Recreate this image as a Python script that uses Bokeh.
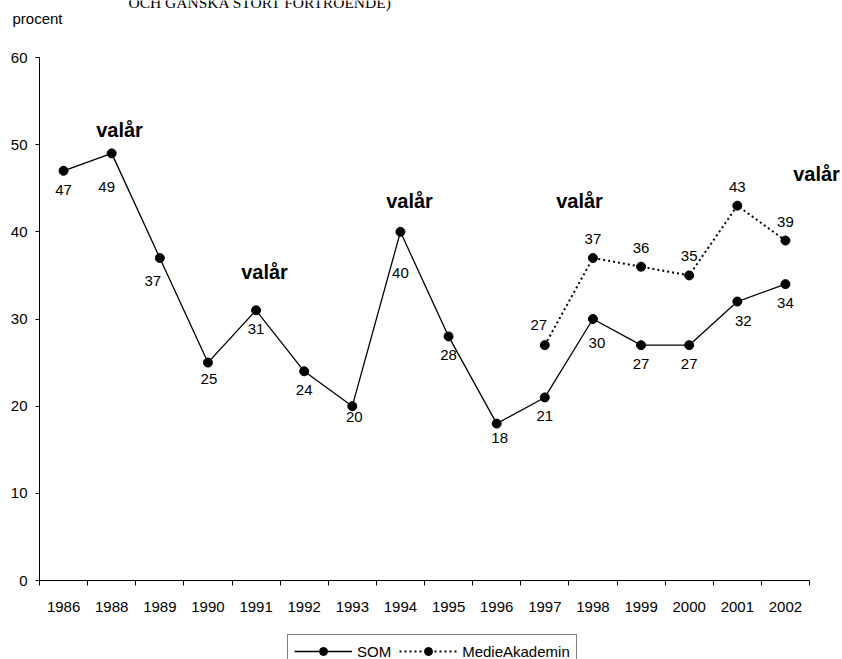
from bokeh.plotting import figure
from bokeh.models import (ColumnDataSource, FixedTicker, Label, Legend, LegendItem,
                          Range1d)
from bokeh.core.properties import value
from bokeh.embed import file_html
from bokeh.resources import INLINE

# ---------------- data ----------------
years = ["1986", "1988", "1989", "1990", "1991", "1992", "1993", "1994",
         "1995", "1996", "1997", "1998", "1999", "2000", "2001", "2002"]
som = [47, 49, 37, 25, 31, 24, 20, 40, 28, 18, 21, 30, 27, 27, 32, 34]
media_years = ["1997", "1998", "1999", "2000", "2001", "2002"]
media = [27, 37, 36, 35, 43, 39]
valar_years = ["1988", "1991", "1994", "1998", "2002"]
y_ticks = [0, 10, 20, 30, 40, 50, 60]
y_max = 60

# ---------------- layout config (not data) ----------------
FONT = "Liberation Sans"
W, H = 842, 659
# plot-area box in pixels (left, right, top, bottom)
PL, PR, PT, PB = 39, 809, 57, 580
ncat = len(years)
ux = (PR - PL) / ncat          # pixels per category
uy = (PB - PT) / y_max         # pixels per percent


def dx(px):   # pixel column -> x data
    return (px - PL) / ux


def dy(py):   # pixel row -> y data
    return (PB - py) / uy


# label nudges in pixels (dx, dy) for data labels, keyed by year
som_nudge = {"1988": (-5, 34), "1989": (-7, 23), "1990": (1, 16), "1993": (2, 11),
             "1994": (0, 41), "1996": (3, 14), "1998": (4, 24), "2001": (6, 19)}
media_nudge = {"1997": (-6, -20)}
# position of the "valår" notes in pixels (centre x, centre y)
valar_pos = {"1988": (119, 129), "1991": (264, 271), "1994": (409, 200),
             "1998": (579, 200), "2002": (816, 173)}

xpos = {y: i + 0.5 for i, y in enumerate(years)}

som_x = [xpos[y] for y in years]
media_x = [xpos[y] for y in media_years]

som_dx = [som_nudge.get(y, (0, 19))[0] for y in years]
som_dy = [som_nudge.get(y, (0, 19))[1] for y in years]
media_dx = [media_nudge.get(y, (0, -19))[0] for y in media_years]
media_dy = [media_nudge.get(y, (0, -19))[1] for y in media_years]

src_som = ColumnDataSource(dict(x=som_x, y=som, t=[str(v) for v in som],
                                dx=som_dx, dy=som_dy))
src_media = ColumnDataSource(dict(x=media_x, y=media, t=[str(v) for v in media],
                                  dx=media_dx, dy=media_dy))

p = figure(width=W, height=H,
           x_range=Range1d(dx(0), dx(W)), y_range=Range1d(dy(H), dy(0)),
           output_backend="svg", toolbar_location=None,
           min_border=0)
p.title.visible = False
p.outline_line_color = None
p.background_fill_color = "white"
p.border_fill_color = "white"
p.xgrid.visible = False
p.ygrid.visible = False

# axes (drawn by bokeh at the data origin)
xa = p.xaxis[0]
xa.fixed_location = 0
xa.bounds = (0, ncat)
xa.ticker = FixedTicker(ticks=som_x, minor_ticks=list(range(ncat + 1)))
xa.major_label_overrides = {xpos[y]: y for y in years}
xa.major_tick_out = 0
xa.major_tick_in = 0
xa.minor_tick_out = 5
xa.minor_tick_in = 0
xa.minor_tick_line_color = "black"
xa.axis_line_color = "black"
xa.major_label_standoff = 16
xa.major_label_text_font = FONT
xa.major_label_text_font_size = "15px"
xa.major_label_text_color = "black"

ya = p.yaxis[0]
ya.fixed_location = 0
ya.bounds = (0, y_max)
ya.ticker = FixedTicker(ticks=y_ticks)
ya.major_tick_out = 4
ya.major_tick_in = 0
ya.minor_tick_out = 0
ya.minor_tick_in = 0
ya.axis_line_color = "black"
ya.major_tick_line_color = "black"
ya.major_label_standoff = 8
ya.major_label_text_font = FONT
ya.major_label_text_font_size = "15px"
ya.major_label_text_color = "black"

# series
l1 = p.line("x", "y", source=src_som, line_color="black", line_width=1.3)
s1 = p.scatter("x", "y", source=src_som, size=9, fill_color="black", line_color="black")
l2 = p.line("x", "y", source=src_media, line_color="black", line_width=2,
            line_dash="2 3")
s2 = p.scatter("x", "y", source=src_media, size=9, fill_color="black", line_color="black")

# data labels
for src in (src_som, src_media):
    p.text("x", "y", text="t", source=src, x_offset="dx", y_offset="dy",
           text_align="center", text_baseline="middle", text_font=value(FONT),
           text_font_size="15px", text_color="black")

# "valår" notes
for y in valar_years:
    px, py = valar_pos[y]
    p.add_layout(Label(x=dx(px), y=dy(py), text="valår", text_align="center",
                       text_baseline="middle", text_font=FONT,
                       text_font_style="bold", text_font_size="20px",
                       text_color="black"))

# axis unit label and (cropped) title line
p.add_layout(Label(x=dx(12), y=dy(18), text="procent", text_align="left",
                   text_baseline="middle", text_font=FONT, text_font_size="15px",
                   text_color="black"))
p.add_layout(Label(x=dx(128), y=dy(2), text="OCH GANSKA STORT FÖRTROENDE)",
                   text_align="left", text_baseline="alphabetic",
                   text_font="Liberation Serif", text_font_size="15.5px",
                   text_color="black"))

legend = Legend(items=[LegendItem(label="SOM", renderers=[l1, s1]),
                       LegendItem(label="MedieAkademin", renderers=[l2, s2])],
                orientation="horizontal", location=(287, -9), padding=6,
                spacing=8, glyph_width=58, glyph_height=20, label_height=20,
                label_standoff=5, margin=0,
                label_text_font=FONT, label_text_font_size="15px",
                label_text_color="black",
                border_line_color="black", border_line_width=1,
                background_fill_color="white", background_fill_alpha=1)
p.add_layout(legend, "center")

open("out.html", "w").write(file_html(p, INLINE))
